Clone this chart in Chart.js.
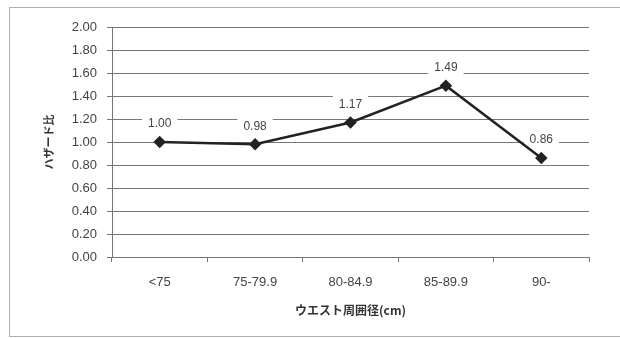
<!DOCTYPE html>
<html>
<head>
<meta charset="utf-8">
<script src="https://cdn.jsdelivr.net/npm/chart.js@4"></script>
<style>
  body { margin: 0; background: #fff; }
  #wrap { position: relative; width: 620px; height: 338px; overflow: hidden; }
  #frame { position: absolute; left: 9px; top: 7px; width: 700px; height: 328px; border: 1px solid #b0b0b0; }
  canvas { position: absolute; left: 0; top: 0; }
</style>
</head>
<body>
<div id="wrap">
  <div id="frame"></div>
  <canvas id="chart" width="620" height="338"></canvas>
</div>
<script>
// ウエスト周囲径のカテゴリとハザード比
const categories = ['<75', '75-79.9', '80-84.9', '85-89.9', '90-'];
const hazardRatio = [1.00, 0.98, 1.17, 1.49, 0.86];
const yTicks = [0, 0.2, 0.4, 0.6, 0.8, 1.0, 1.2, 1.4, 1.6, 1.8, 2.0];

const tickFont = { family: '"Liberation Sans", Arial, sans-serif', size: 13 };
const jpFont = { family: '"Noto Sans CJK JP", sans-serif', size: 11, weight: 'bold' };

// 白い背景つきの値ラベル（線より先に描く）
const valueLabels = {
    id: 'valueLabels',
    beforeDatasetsDraw(chart) {
        const ctx = chart.ctx;
        const meta = chart.getDatasetMeta(0);
        ctx.save();
        ctx.font = '12px "Liberation Sans", Arial, sans-serif';
        ctx.textAlign = 'center';
        ctx.textBaseline = 'middle';
        meta.data.forEach((pt, i) => {
            const text = hazardRatio[i].toFixed(2);
            const w = ctx.measureText(text).width + 12;
            const x = pt.x;
            const y = pt.y - 18;
            ctx.fillStyle = '#fff';
            ctx.fillRect(x - w / 2, y - 10, w, 20);
            ctx.fillStyle = '#444';
            ctx.fillText(text, x, y);
        });
        ctx.restore();
    }
};

new Chart(document.getElementById('chart').getContext('2d'), {
    type: 'line',
    data: {
        labels: categories,
        datasets: [{
            data: hazardRatio,
            borderColor: '#222',
            borderWidth: 2.5,
            pointStyle: 'rectRot',
            pointRadius: 4.5,
            pointBackgroundColor: '#222',
            pointBorderColor: '#222',
            tension: 0,
            fill: false
        }]
    },
    options: {
        responsive: false,
        animation: false,
        layout: { padding: { left: 10, top: 27, right: 31, bottom: 0 } },
        plugins: { legend: { display: false }, tooltip: { enabled: false } },
        scales: {
            x: {
                offset: true,
                grid: { drawOnChartArea: false, offset: true, tickLength: 5, color: '#777' },
                border: { color: '#777' },
                ticks: { font: tickFont, color: '#444', padding: 13, maxRotation: 0 },
                title: { display: true, text: 'ウエスト周囲径(cm)', font: { ...jpFont, size: 12 }, color: '#333', padding: { top: 20, bottom: 20 } },
                afterFit: s => { s.height = 81; }
            },
            y: {
                min: 0,
                max: 2,
                afterBuildTicks: s => { s.ticks = yTicks.map(v => ({ value: v })); },
                grid: { color: '#777', tickLength: 5 },
                border: { color: '#777' },
                ticks: { font: tickFont, color: '#444', padding: 10, callback: v => v.toFixed(2) },
                title: { display: true, text: 'ハザード比', font: jpFont, color: '#333', padding: { top: 32, bottom: 32 } },
                afterFit: s => { s.width = 102; }
            }
        }
    },
    plugins: [valueLabels]
});
</script>
</body>
</html>
